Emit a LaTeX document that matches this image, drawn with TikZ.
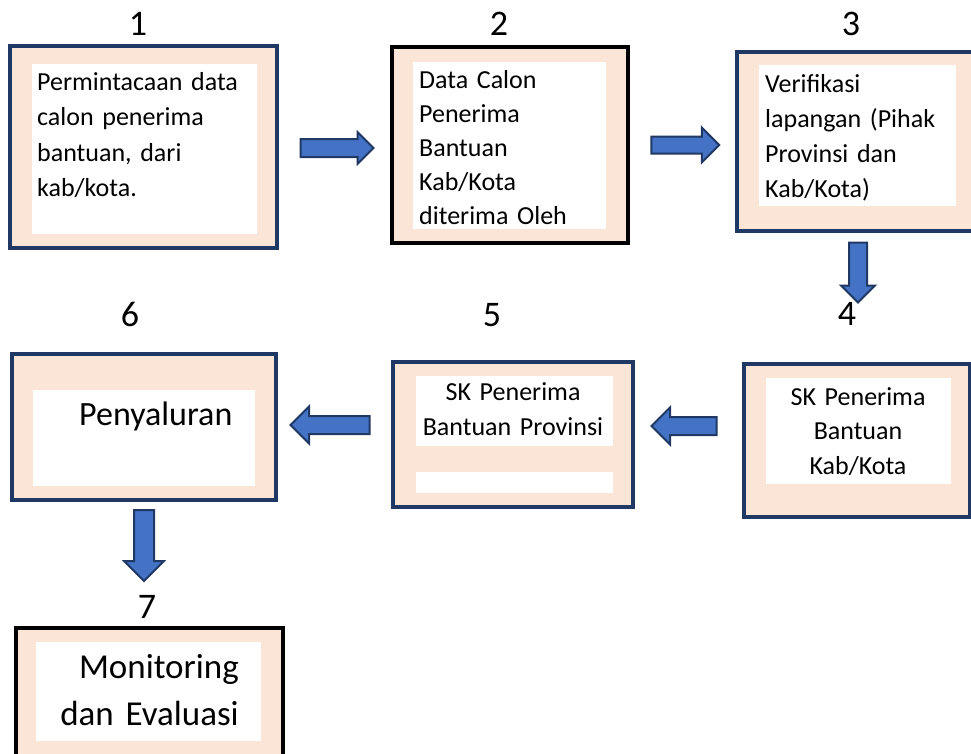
\documentclass[tikz,border=0pt]{standalone}
\usepackage{fontspec}
\setmainfont{Carlito}
\usetikzlibrary{shapes.arrows}
\definecolor{peach}{HTML}{FBE5D6}
\definecolor{navy}{HTML}{1F3864}
\definecolor{arrowblue}{HTML}{4472C4}
\tikzset{
  outerbox/.style={draw=navy,fill=peach,line width=3.5pt,inner sep=0pt},
  blackbox/.style={outerbox,draw=black,line width=4pt},
  inwhite/.style={fill=white},
  boxtext/.style={inner sep=0pt,font=\fontsize{26}{35.5}\selectfont},
  numlabel/.style={inner sep=0pt,anchor=base,font=\fontsize{36}{40}\selectfont},
  blockarrow/.style={single arrow,draw=navy,fill=arrowblue,line width=2pt,
    inner xsep=0pt,inner ysep=8pt,single arrow head extend=#1},
  blockarrow/.default=8pt
}
\begin{document}
\begin{tikzpicture}[x=1pt,y=-1pt]
\useasboundingbox (0,0) rectangle (971,753);

% Boxes
\node[outerbox,minimum width=267pt,minimum height=202pt] (b1) at (143.5,147) {};
\fill[inwhite] (32,64) rectangle (257,234);
\node[blackbox,minimum width=236pt,minimum height=196pt] (b2) at (510,145) {};
\fill[inwhite] (413,62) rectangle (606,229);
\node[outerbox,minimum width=236pt,minimum height=179pt] (b3) at (855,141.5) {};
\fill[inwhite] (759,65) rectangle (956,206);
\node[outerbox,minimum width=226pt,minimum height=153pt] (b4) at (857,440.5) {};
\fill[inwhite] (766,378) rectangle (951,484);
\node[outerbox,minimum width=240pt,minimum height=145pt] (b5) at (513,434.5) {};
\fill[inwhite] (416,376) rectangle (613,446);
\fill[inwhite] (416,472) rectangle (613,493);
\node[outerbox,minimum width=264pt,minimum height=146pt] (b6) at (144,427) {};
\fill[inwhite] (33,390) rectangle (255,486);
\node[blackbox,minimum width=267pt,minimum height=142pt] (b7) at (149.5,699) {};
\fill[inwhite] (36,642) rectangle (261,741);

% Texts
\node[boxtext,anchor=base west,text width=220pt,align=left] (t1) at (37,90)
  {Permintacaan data\\calon penerima\\bantuan, dari\\kab/kota.};
\node[boxtext,anchor=base west,text width=185pt,align=left,
  font=\fontsize{26}{34.2}\selectfont] (t2) at (419,88)
  {Data Calon\\Penerima\\Bantuan\\Kab/Kota\\diterima Oleh};
\node[boxtext,anchor=base west,text width=190pt,align=left,
  font=\fontsize{26}{35}\selectfont] (t3) at (765,92)
  {Verifikasi\\lapangan (Pihak\\Provinsi dan\\Kab/Kota)};
\node[boxtext,anchor=base,text width=180pt,align=center,
  font=\fontsize{26}{34.5}\selectfont] (t4) at (858,405)
  {SK Penerima\\Bantuan\\Kab/Kota};
\node[boxtext,anchor=base,text width=195pt,align=center,
  font=\fontsize{26}{35}\selectfont] (t5) at (513,400)
  {SK Penerima\\Bantuan Provinsi};
\node[boxtext,anchor=base west,font=\fontsize{34}{40}\selectfont] (t6) at (79,425)
  {Penyaluran};
\node[boxtext,anchor=base east,text width=200pt,align=right,
  font=\fontsize{35}{47}\selectfont] (t7) at (239,678)
  {Monitoring\\dan Evaluasi};

% Numbers
\node[numlabel] (n1) at (138,35) {1};
\node[numlabel] (n2) at (499,35) {2};
\node[numlabel] (n3) at (851,35) {3};
\node[numlabel] (n4) at (847,325) {4};
\node[numlabel] (n5) at (492,326) {5};
\node[numlabel] (n6) at (130,326) {6};
\node[numlabel] (n7) at (147,618) {7};

% Arrows
\node[blockarrow=7pt,minimum height=73pt] (a12) at (332.5,148) {};
\node[blockarrow=9pt,minimum height=68pt,inner ysep=7.5pt] (a23) at (681,145) {};
\node[blockarrow=8pt,minimum height=60pt,rotate=-90] (a34) at (858,268) {};
\node[blockarrow=9.5pt,minimum height=65pt,rotate=180] (a45) at (688.5,426) {};
\node[blockarrow=9.5pt,minimum height=79pt,rotate=180] (a56) at (334.5,425) {};
\node[blockarrow=10pt,minimum height=71pt,inner ysep=9pt,rotate=-90] (a67) at (144,540.5) {};
\end{tikzpicture}
\end{document}
